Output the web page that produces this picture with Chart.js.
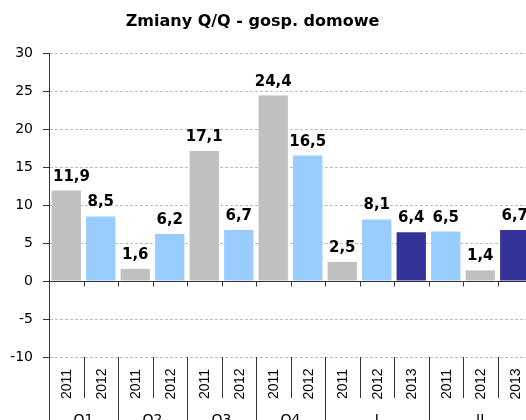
<!DOCTYPE html>
<html><head><meta charset="utf-8">
<script src="https://cdn.jsdelivr.net/npm/chart.js@4.4.0/dist/chart.umd.min.js"></script>
<style>html,body{margin:0;padding:0;overflow:hidden;background:#fff;width:526px;height:420px}canvas{display:block}</style>
</head><body>
<canvas id="c" width="540" height="420" style="width:540px;height:420px"></canvas>
<script>
const chartTitle = 'Zmiany Q/Q - gosp. domowe';
const groups = ['Q1','Q2','Q3','Q4','I','II'];
const groupSizes = [2,2,2,2,3,3];
const years = ['2011','2012','2011','2012','2011','2012','2011','2012','2011','2012','2013','2011','2012','2013'];
const values = [11.9,8.5,1.6,6.2,17.1,6.7,24.4,16.5,2.5,8.1,6.4,6.5,1.4,6.7];
const yMin = -10, yMax = 30, yStep = 5;

const GRAY='#c0c0c0', LIGHT='#99ccff', DARK='#333399';
const barColors=[GRAY,LIGHT,GRAY,LIGHT,GRAY,LIGHT,GRAY,LIGHT,GRAY,LIGHT,DARK,LIGHT,GRAY,DARK];
const AXIS='#333333';

const fmt = v => v.toFixed(1).replace('.', ',');

const overlay = {
  id:'overlay',
  afterDatasetsDraw(chart){
    const ctx = chart.ctx, ca = chart.chartArea;
    const xs = chart.scales.x, ys = chart.scales.y;
    const n = values.length;
    const w = (xs.right - xs.left) / n;
    const bx = k => Math.round(xs.left + k*w) + 0.5;
    const y0 = Math.round(ys.getPixelForValue(0)) + 0.5;
    ctx.save();
    // zero line
    ctx.strokeStyle = AXIS; ctx.lineWidth = 1;
    ctx.beginPath(); ctx.moveTo(ca.left, y0); ctx.lineTo(ca.right, y0); ctx.stroke();
    // ticks below zero line
    ctx.beginPath();
    for (let k=0;k<=n;k++){ ctx.moveTo(bx(k), y0); ctx.lineTo(bx(k), y0+5); }
    ctx.stroke();
    // y axis extension to the bottom
    ctx.beginPath(); ctx.moveTo(bx(0), ca.bottom); ctx.lineTo(bx(0), chart.height); ctx.stroke();
    // separators
    const groupBounds = [0]; groupSizes.reduce((a,s)=>{groupBounds.push(a+s); return a+s;},0);
    ctx.beginPath();
    for (let k=1;k<=n;k++){
      const isGroup = groupBounds.includes(k);
      ctx.moveTo(bx(k), ca.bottom); ctx.lineTo(bx(k), isGroup ? chart.height : ca.bottom+41);
    }
    ctx.stroke();
    // year labels
    ctx.fillStyle = '#000';
    ctx.font = '14px "Liberation Sans", Arial, sans-serif';
    ctx.textAlign='center'; ctx.textBaseline='middle';
    for (let i=0;i<n;i++){
      const cx = xs.getPixelForValue(i);
      ctx.save(); ctx.translate(cx+1, ca.bottom+27); ctx.rotate(-Math.PI/2);
      ctx.fillText(years[i], 0, 0); ctx.restore();
    }
    // group labels
    ctx.font = '14px "DejaVu Sans", sans-serif';
    ctx.textBaseline='alphabetic';
    let s=0;
    groups.forEach((g,gi)=>{
      const cx = xs.left + (s + groupSizes[gi]/2)*w;
      ctx.fillText(g, cx, ca.bottom+67);
      s += groupSizes[gi];
    });
    // data labels
    ctx.font = 'bold 15px "DejaVu Sans", sans-serif';
    ctx.textBaseline='alphabetic';
    const meta = chart.getDatasetMeta(0);
    meta.data.forEach((el,i)=>{
      const t = fmt(values[i]);
      const tw = ctx.measureText(t).width;
      let x = el.x;
      if (x - tw/2 < ca.left + 4) x = ca.left + 4 + tw/2;
      ctx.textAlign='center';
      ctx.fillText(t, x, el.y - 10);
    });
    // title
    ctx.font = 'bold 16px "DejaVu Sans", sans-serif';
    ctx.textAlign='center';
    ctx.fillText(chartTitle, 252.5, 26);
    ctx.restore();
  }
};

new Chart(document.getElementById('c'), {
  type:'bar',
  data:{
    labels: years.map((y,i)=>y),
    datasets:[{
      data: values,
      backgroundColor: barColors,
      borderWidth: 0,
      categoryPercentage: 1,
      barPercentage: 0.85
    }]
  },
  options:{
    responsive:false,
    animation:false,
    devicePixelRatio:1,
    layout:{padding:{top:53,left:0,right:8,bottom:63}},
    plugins:{legend:{display:false},title:{display:false},tooltip:{enabled:false}},
    scales:{
      x:{display:false},
      y:{
        min:yMin, max:yMax,
        afterFit(scale){ scale.width = 49; },
        ticks:{stepSize:yStep, color:'#000', font:{family:'"DejaVu Sans", sans-serif', size:14}, padding:10},
        grid:{color:'#bdbdbd', tickColor:AXIS, tickLength:6, lineWidth:1},
        border:{display:true, color:AXIS, width:1, dash:[3,2]}
      }
    }
  },
  plugins:[overlay]
});
</script>
</body></html>
